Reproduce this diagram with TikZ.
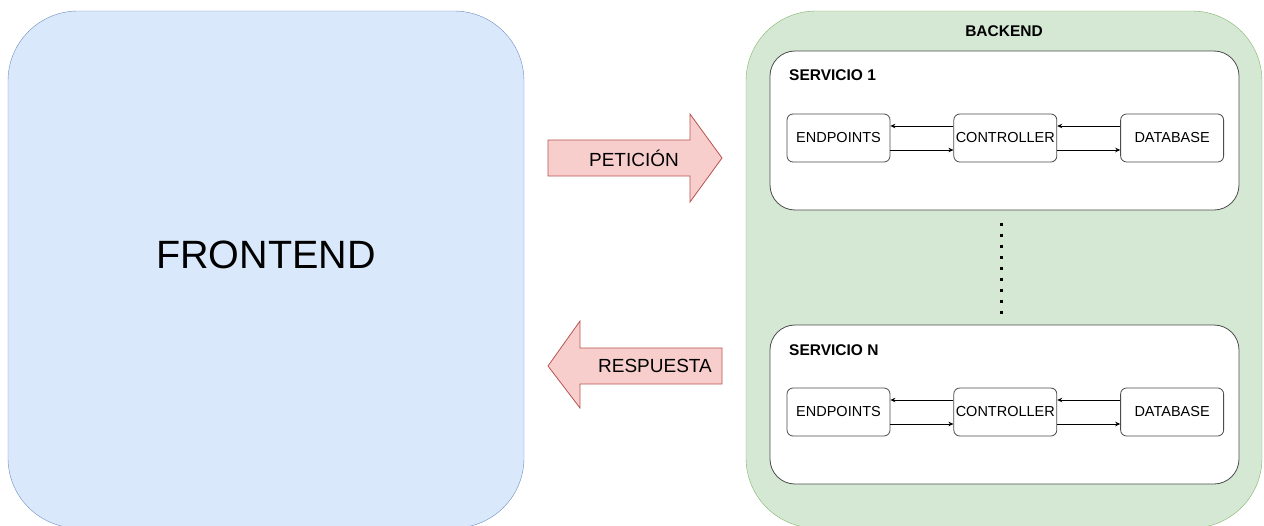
\documentclass[tikz,border=0pt]{standalone}
\usepackage{fontspec}
\setmainfont{Liberation Sans}
\usepackage{tikz}
\usetikzlibrary{arrows.meta,positioning}

\definecolor{frontfill}{HTML}{DAE8FC}
\definecolor{frontdraw}{HTML}{6C8EBF}
\definecolor{backfill}{HTML}{D5E8D4}
\definecolor{backdraw}{HTML}{82B366}
\definecolor{arrowfill}{HTML}{F8CECC}
\definecolor{arrowdraw}{HTML}{B85450}

\begin{document}
\begin{tikzpicture}[x=1pt,y=-1pt,
    bigbox/.style={rectangle,rounded corners=70pt,minimum width=516pt,minimum height=517pt,inner sep=0pt},
    service/.style={rectangle,rounded corners=25pt,minimum width=469pt,minimum height=159pt,fill=white,draw=black!70,line width=0.8pt},
    part/.style={rectangle,rounded corners=6pt,minimum width=103pt,minimum height=48pt,inner sep=0pt,fill=white,draw=black!70,line width=0.8pt,font=\fontsize{14.5}{16}\selectfont},
    title/.style={inner sep=0pt,font=\bfseries\fontsize{15.5}{17}\selectfont},
    bigarrow/.style={fill=arrowfill,draw=arrowdraw,line width=0.8pt},
    link/.style={line width=0.7pt,-{Stealth[length=5pt,width=4.5pt]}},
   ]
    \useasboundingbox (0,0) rectangle (1264,525);
    \clip (0,0) rectangle (1264,525);

    \node (frontend) [bigbox,fill=frontfill,draw=frontdraw] at (266,269.5) {};
    \node (fronttext) [font=\fontsize{39.5}{44}\selectfont] at (266,255) {FRONTEND};

    \node (backend) [bigbox,fill=backfill,draw=backdraw] at (1004,269.5) {};
    \node (backtext) [title] at (1004,31) {BACKEND};

    % servicio 1
    \node (serv1) [service] at (1004.5,130.5) {};
    \node (serv1text) [title,anchor=west] at (789,75) {SERVICIO 1};
    \node (endp1) [part] at (838.5,138) {ENDPOINTS};
    \node (ctrl1) [part,right=63pt of endp1] {CONTROLLER};
    \node (db1) [part,right=63pt of ctrl1] {DATABASE};

    % servicio N
    \node (servN) [service] at (1004.5,404.5) {};
    \node (servNtext) [title,anchor=west] at (789,350) {SERVICIO N};
    \node (endpN) [part] at (838.5,412) {ENDPOINTS};
    \node (ctrlN) [part,right=63pt of endpN] {CONTROLLER};
    \node (dbN) [part,right=63pt of ctrlN] {DATABASE};

    \draw[link] ([yshift=12pt]ctrl1.west) -- ([yshift=12pt]endp1.east);
    \draw[link] ([yshift=-12pt]endp1.east) -- ([yshift=-12pt]ctrl1.west);
    \draw[link] ([yshift=12pt]db1.west) -- ([yshift=12pt]ctrl1.east);
    \draw[link] ([yshift=-12pt]ctrl1.east) -- ([yshift=-12pt]db1.west);
    \draw[link] ([yshift=12pt]ctrlN.west) -- ([yshift=12pt]endpN.east);
    \draw[link] ([yshift=-12pt]endpN.east) -- ([yshift=-12pt]ctrlN.west);
    \draw[link] ([yshift=12pt]dbN.west) -- ([yshift=12pt]ctrlN.east);
    \draw[link] ([yshift=-12pt]ctrlN.east) -- ([yshift=-12pt]dbN.west);

    % puntos
    \coordinate (dottop) at (1001,222.5);
    \coordinate (dotbot) at (1001,316);
    \draw[line width=3pt,dash pattern=on 3pt off 8pt] (dottop) -- (dotbot);

    % flechas
    \draw[bigarrow] (548,140) -- (690,140) -- (690,114) -- (722,158)
        -- (690,202) -- (690,176) -- (548,176) -- cycle;
    \node (peticion) [font=\fontsize{19}{21}\selectfont] at (634,158) {PETICIÓN};
    \draw[bigarrow] (722,348) -- (580,348) -- (580,321) -- (548,366)
        -- (580,408) -- (580,384) -- (722,384) -- cycle;
    \node (respuesta) [font=\fontsize{19}{21}\selectfont] at (655,366) {RESPUESTA};
\end{tikzpicture}
\end{document}
